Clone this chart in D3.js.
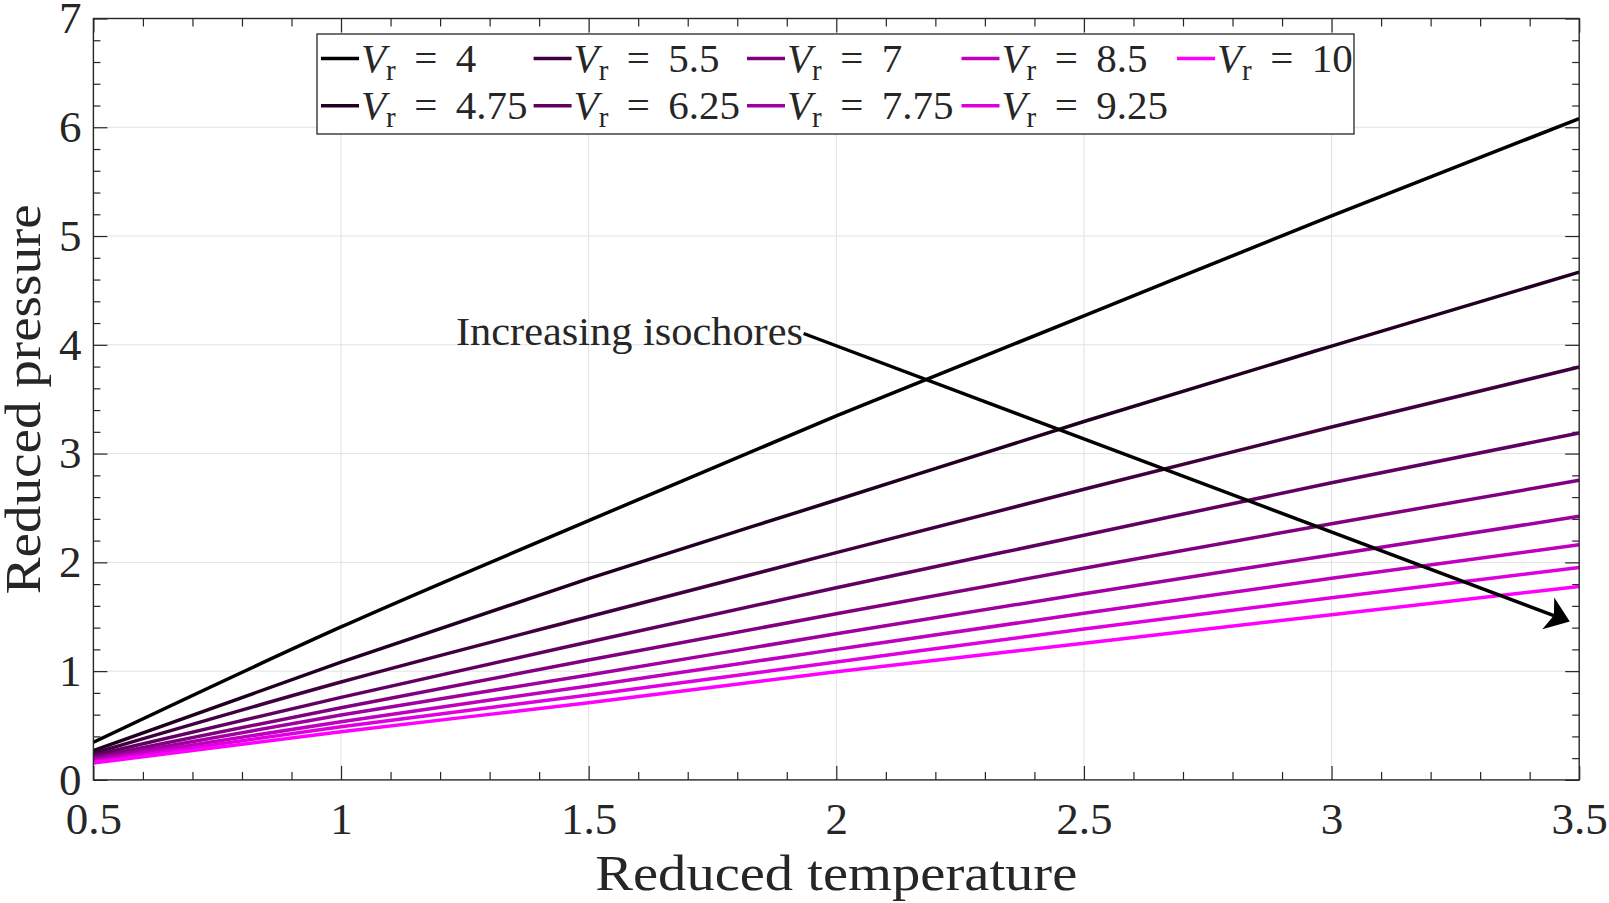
<!DOCTYPE html>
<html>
<head>
<meta charset="utf-8">
<script src="https://cdn.jsdelivr.net/npm/d3@7"></script>
<style>
  html, body { margin: 0; padding: 0; background: #fff; }
  svg { display: block; }
  text { font-family: "Liberation Serif", "Times New Roman", serif; fill: #262626; }
</style>
</head>
<body>
<svg id="chart" width="1609" height="903"></svg>
<script>
// ---------------- data ----------------
const temperatures = [0.5, 1, 1.5, 2, 2.5, 3, 3.5];
const volumes = [4, 4.75, 5.5, 6.25, 7, 7.75, 8.5, 9.25, 10];
const volumeLabels = ["4", "4.75", "5.5", "6.25", "7", "7.75", "8.5", "9.25", "10"];

const pressureV4    = [0.346, 1.406, 2.383, 3.347, 4.265, 5.186, 6.080];
const pressureV475  = [0.270, 1.082, 1.850, 2.573, 3.295, 3.988, 4.668];
const pressureV55   = [0.245, 0.900, 1.500, 2.089, 2.672, 3.244, 3.796];
const pressureV625  = [0.225, 0.759, 1.268, 1.767, 2.249, 2.732, 3.190];
const pressureV7    = [0.205, 0.664, 1.102, 1.528, 1.945, 2.355, 2.754];
const pressureV775  = [0.190, 0.597, 0.964, 1.344, 1.712, 2.068, 2.423];
const pressureV85   = [0.177, 0.535, 0.863, 1.200, 1.532, 1.853, 2.162];
const pressureV925  = [0.165, 0.489, 0.781, 1.084, 1.387, 1.675, 1.953];
const pressureV10   = [0.155, 0.443, 0.709, 0.994, 1.256, 1.519, 1.779];

const xTickValues = [0.5, 1, 1.5, 2, 2.5, 3, 3.5];
const xTickLabels = ["0.5", "1", "1.5", "2", "2.5", "3", "3.5"];
const yTickValues = [0, 1, 2, 3, 4, 5, 6, 7];
const yTickLabels = ["0", "1", "2", "3", "4", "5", "6", "7"];

const xLabel = "Reduced temperature";
const yLabel = "Reduced pressure";
const annotationText = "Increasing isochores";
const arrowFrom = [1.934, 4.104];   // data coords (T, P)
const arrowTo   = [3.481, 1.456];

// ---------------- layout ----------------
const svg = d3.select("#chart");
const pLeft = 93.4, pRight = 1579.2, pTop = 18.5, pBottom = 779.9;

const x = d3.scaleLinear().domain([0.5, 3.5]).range([pLeft, pRight]);
const y = d3.scaleLinear().domain([0, 7]).range([pBottom, pTop]);

const pressures = [pressureV4, pressureV475, pressureV55, pressureV625, pressureV7,
                   pressureV775, pressureV85, pressureV925, pressureV10];
const colorOf = d3.interpolateRgb("#000000", "#ff00ff");
const series = volumes.map((v, i) => ({
  v, label: volumeLabels[i],
  color: colorOf(i / (volumes.length - 1)),
  points: temperatures.map((t, j) => [t, pressures[i][j]])
}));

// grid
const grid = svg.append("g");
grid.selectAll("line.gx").data(xTickValues.slice(1, -1)).join("line")
  .attr("x1", d => x(d)).attr("x2", d => x(d)).attr("y1", pTop).attr("y2", pBottom)
  .attr("stroke", "#e1e1e1").attr("stroke-width", 1);
grid.selectAll("line.gy").data(yTickValues.slice(1, -1)).join("line")
  .attr("x1", pLeft).attr("x2", pRight).attr("y1", d => y(d)).attr("y2", d => y(d))
  .attr("stroke", "#e1e1e1").attr("stroke-width", 1);

// minor ticks values
const xMinor = d3.range(5, 36).map(d => d / 10).filter(d => !xTickValues.some(t => Math.abs(t - d) < 1e-9));
const yMinor = d3.range(0, 36).map(d => d / 5).filter(d => !yTickValues.some(t => Math.abs(t - d) < 1e-9));

function styleAxis(g) {
  g.select(".domain").remove();
  g.selectAll(".tick line").attr("stroke", "#262626").attr("stroke-width", 1.2);
}

// bottom axis
svg.append("g").attr("transform", `translate(0,${pBottom})`)
  .call(d3.axisBottom(x).tickValues(xTickValues).tickSizeInner(-14).tickSizeOuter(0)
    .tickPadding(22).tickFormat((d, i) => xTickLabels[i]))
  .call(styleAxis)
  .call(g => g.selectAll("text").attr("font-size", 45).attr("fill", "#262626")
    .style("font-family", '"Liberation Serif", serif'));
svg.append("g").attr("transform", `translate(0,${pBottom})`)
  .call(d3.axisBottom(x).tickValues(xMinor).tickSizeInner(-8).tickSizeOuter(0).tickFormat(""))
  .call(styleAxis);
// top axis
svg.append("g").attr("transform", `translate(0,${pTop})`)
  .call(d3.axisTop(x).tickValues(xTickValues).tickSizeInner(-14).tickSizeOuter(0).tickFormat(""))
  .call(styleAxis);
svg.append("g").attr("transform", `translate(0,${pTop})`)
  .call(d3.axisTop(x).tickValues(xMinor).tickSizeInner(-8).tickSizeOuter(0).tickFormat(""))
  .call(styleAxis);
// left axis
svg.append("g").attr("transform", `translate(${pLeft},0)`)
  .call(d3.axisLeft(y).tickValues(yTickValues).tickSizeInner(-14).tickSizeOuter(0)
    .tickPadding(12).tickFormat((d, i) => yTickLabels[i]))
  .call(styleAxis)
  .call(g => g.selectAll("text").attr("font-size", 45).attr("fill", "#262626")
    .style("font-family", '"Liberation Serif", serif'));
svg.append("g").attr("transform", `translate(${pLeft},0)`)
  .call(d3.axisLeft(y).tickValues(yMinor).tickSizeInner(-7).tickSizeOuter(0).tickFormat(""))
  .call(styleAxis);
// right axis
svg.append("g").attr("transform", `translate(${pRight},0)`)
  .call(d3.axisRight(y).tickValues(yTickValues).tickSizeInner(-14).tickSizeOuter(0).tickFormat(""))
  .call(styleAxis);
svg.append("g").attr("transform", `translate(${pRight},0)`)
  .call(d3.axisRight(y).tickValues(yMinor).tickSizeInner(-7).tickSizeOuter(0).tickFormat(""))
  .call(styleAxis);

// lines
const line = d3.line().x(d => x(d[0])).y(d => y(d[1])).curve(d3.curveMonotoneX);
svg.append("g").selectAll("path").data(series).join("path")
  .attr("d", d => line(d.points))
  .attr("fill", "none").attr("stroke", d => d.color).attr("stroke-width", 3.5)
  .attr("stroke-linejoin", "round");

// box
svg.append("rect").attr("x", pLeft).attr("y", pTop)
  .attr("width", pRight - pLeft).attr("height", pBottom - pTop)
  .attr("fill", "none").attr("stroke", "#262626").attr("stroke-width", 1.4);

// annotation arrow
const ax0 = x(arrowFrom[0]), ay0 = y(arrowFrom[1]);
const ax1 = x(arrowTo[0]), ay1 = y(arrowTo[1]);
const len = Math.hypot(ax1 - ax0, ay1 - ay0);
const ux = (ax1 - ax0) / len, uy = (ay1 - ay0) / len;
const px = -uy, py = ux;
const headLen = 23, headHalf = 17, indent = 6;
svg.append("line")
  .attr("x1", ax0).attr("y1", ay0)
  .attr("x2", ax1 - ux * (headLen - indent)).attr("y2", ay1 - uy * (headLen - indent))
  .attr("stroke", "#000").attr("stroke-width", 3.4);
const head = [
  [ax1, ay1],
  [ax1 - ux * headLen + px * headHalf, ay1 - uy * headLen + py * headHalf],
  [ax1 - ux * (headLen - indent), ay1 - uy * (headLen - indent)],
  [ax1 - ux * headLen - px * headHalf, ay1 - uy * headLen - py * headHalf]
];
svg.append("path").attr("d", d3.line()(head) + "Z").attr("fill", "#000");

svg.append("text").attr("x", 456).attr("y", 345)
  .attr("font-size", 40).attr("fill", "#000")
  .attr("textLength", 347).attr("lengthAdjust", "spacingAndGlyphs")
  .text(annotationText);

// axis labels
svg.append("text").attr("x", (pLeft + pRight) / 2).attr("y", 890)
  .attr("text-anchor", "middle").attr("font-size", 50)
  .attr("textLength", 482).attr("lengthAdjust", "spacingAndGlyphs")
  .text(xLabel);
svg.append("text").attr("transform", `translate(40,${(pTop + pBottom) / 2}) rotate(-90)`)
  .attr("text-anchor", "middle").attr("font-size", 50)
  .attr("textLength", 390).attr("lengthAdjust", "spacingAndGlyphs")
  .text(yLabel);

// legend
const legend = svg.append("g");
legend.append("rect").attr("x", 317).attr("y", 34).attr("width", 1037).attr("height", 100)
  .attr("fill", "#fff").attr("stroke", "#262626").attr("stroke-width", 1.3);
const colX = [321, 533.6, 747, 961.5, 1177];
const rowY = [58.5, 105.7];
const items = legend.selectAll("g.item").data(series).join("g")
  .attr("transform", (d, i) => `translate(${colX[Math.floor(i / 2)]},${rowY[i % 2]})`);
items.append("line").attr("x1", 0).attr("x2", 38).attr("y1", 0).attr("y2", 0)
  .attr("stroke", d => d.color).attr("stroke-width", 3.5);
const lt = items.append("text").attr("x", 40).attr("y", 13).attr("font-size", 41).attr("fill", "#000");
lt.append("tspan").attr("font-style", "italic").text("V");
lt.append("tspan").attr("font-size", 29).attr("dy", 8).text("r");
lt.append("tspan").attr("dy", -8).text(d => " \u2009=\u2009 " + d.label);
</script>
</body>
</html>
